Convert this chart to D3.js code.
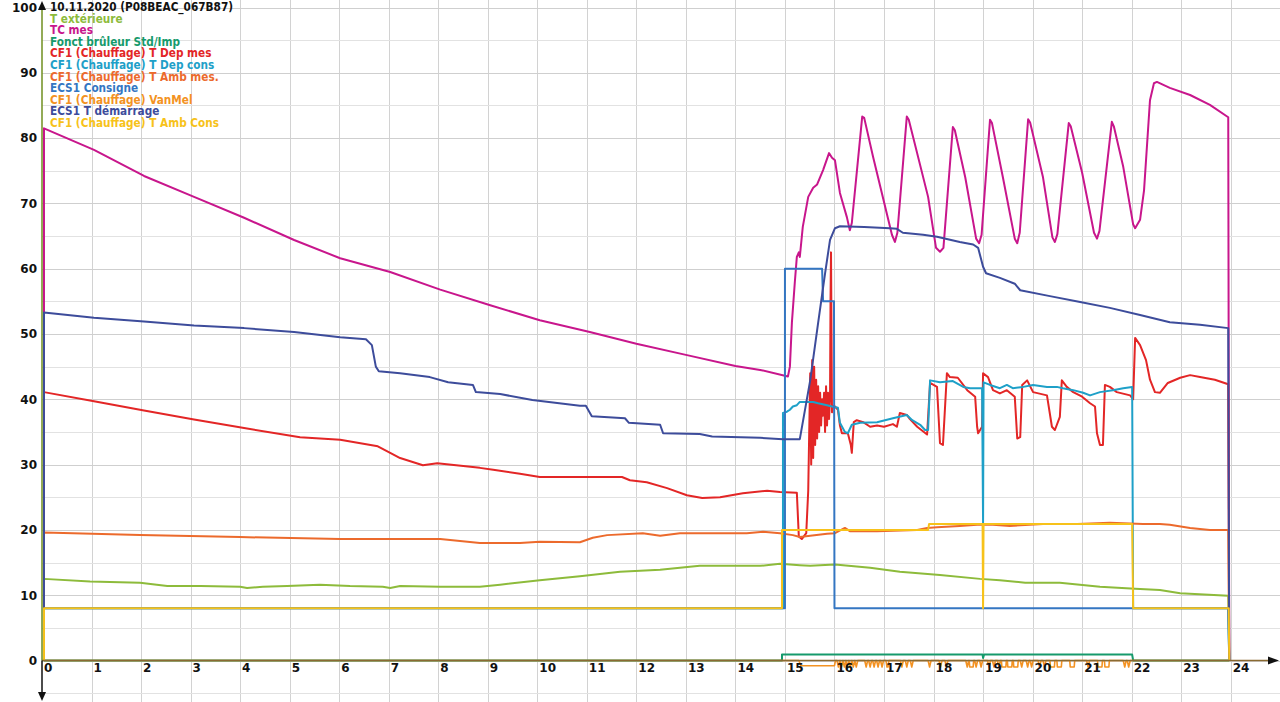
<!DOCTYPE html>
<html><head><meta charset="utf-8">
<script src="https://cdn.jsdelivr.net/npm/d3@7/dist/d3.min.js"></script>
<style>
html,body{margin:0;padding:0;background:#fff;}
svg{display:block;}
.tick{font-family:"DejaVu Sans",sans-serif;font-weight:bold;font-size:12px;fill:#111;}
.leg{font-family:"DejaVu Sans Condensed","DejaVu Sans",sans-serif;font-stretch:condensed;font-weight:bold;font-size:11.7px;}
</style></head>
<body>
<svg id="c" width="1280" height="702"></svg>
<script>
// ---------- data (hours, value) ----------
const title = "10.11.2020 (P08BEAC_067B87)";
const seriesNames = ["T extérieure","TC mes","Fonct brûleur Std/Imp","CF1 (Chauffage) T Dep mes","CF1 (Chauffage) T Dep cons","CF1 (Chauffage) T Amb mes.","ECS1 Consigne","CF1 (Chauffage) VanMel","ECS1 T démarrage","CF1 (Chauffage) T Amb Cons"];
const seriesColors = ["#8dbb3b","#c8168c","#169a6c","#e32626","#1ea0c8","#ec6a2c","#3476c2","#f39222","#3d4c9b","#f7c21a"];
const xTicks = d3.range(0,25);
const yTicks = [0,10,20,30,40,50,60,70,80,90,100];

const tExt = [[0.04,0],[0.04,12.5],[0.97,12.1],[1.98,11.9],[2.53,11.4],[3.2,11.4],[4.0,11.3],[4.14,11.1],[4.46,11.3],[4.95,11.4],[5.61,11.6],[6.22,11.4],[6.88,11.3],[7.03,11.1],[7.23,11.4],[8.04,11.3],[8.84,11.3],[9.25,11.6],[10.05,12.3],[10.86,12.9],[11.67,13.6],[12.48,13.9],[13.28,14.5],[14.09,14.5],[14.5,14.5],[14.9,14.8],[15.3,14.6],[15.51,14.5],[16.01,14.7],[16.72,14.2],[17.32,13.6],[18.13,13.1],[18.94,12.5],[19.34,12.3],[19.85,11.9],[20.55,11.9],[21.36,11.3],[22.07,11.0],[22.57,10.8],[22.98,10.3],[23.95,9.9],[23.97,0]];

const tcMes = [[0.04,0],[0.04,81.5],[1.05,78.2],[2.06,74.2],[3.07,71.0],[4.08,67.8],[5.09,64.4],[6.02,61.6],[7.03,59.5],[8.04,56.8],[9.05,54.4],[10.05,52.1],[11.06,50.3],[12.0,48.5],[13.0,46.8],[14.0,45.1],[14.5,44.5],[15.06,43.5],[15.1,45],[15.14,51.7],[15.2,58],[15.24,61.8],[15.28,62.5],[15.3,61.8],[15.36,66.4],[15.47,71.0],[15.57,72.4],[15.65,72.9],[15.77,75.1],[15.89,77.7],[15.95,77.0],[16.01,76.6],[16.11,71.6],[16.25,67.9],[16.31,65.9],[16.35,67],[16.56,83.3],[16.6,83.1],[16.78,77.1],[17.16,65.2],[17.22,64.1],[17.27,65.5],[17.46,83.3],[17.5,82.8],[17.89,71.0],[18.05,63.2],[18.13,62.6],[18.2,63.2],[18.39,81.7],[18.43,81.2],[18.64,74.0],[18.86,64.6],[18.92,63.9],[18.97,65.2],[19.14,82.8],[19.18,82.3],[19.4,74.0],[19.64,64.6],[19.69,63.9],[19.74,65.5],[19.91,82.9],[19.95,82.4],[20.21,74.0],[20.4,64.8],[20.45,64.1],[20.5,65.3],[20.73,82.3],[20.77,81.8],[21.0,74.7],[21.24,65.5],[21.3,64.6],[21.35,65.8],[21.6,82.5],[21.64,81.8],[21.83,75.6],[22.03,66.8],[22.07,66.2],[22.17,67.5],[22.25,72],[22.37,85.8],[22.45,88.4],[22.51,88.6],[22.77,87.7],[23.18,86.6],[23.58,85.1],[23.95,83.2],[23.97,0]];

const burner = [[0.04,0],[14.94,0],[14.94,0.9],[18.99,0.9],[19.0,0.4],[19.02,0.9],[22.01,0.9],[22.03,0],[23.97,0]];

const depMes = [[0.04,0],[0.04,41.1],[1.05,39.7],[2.06,38.3],[3.07,36.9],[4.08,35.6],[5.21,34.2],[6.02,33.8],[6.78,32.8],[7.03,31.8],[7.23,31.0],[7.69,29.9],[7.98,30.2],[8.84,29.5],[9.11,29.2],[9.65,28.6],[10.05,28.1],[10.86,28.1],[11.71,28.1],[11.87,27.6],[12.21,27.3],[12.62,26.4],[13.02,25.3],[13.33,24.9],[13.69,25.0],[14.15,25.6],[14.64,26.0],[14.9,25.8],[15.24,25.7],[15.28,19.0],[15.34,18.6],[15.43,19.5],[15.47,26],[15.51,44],[15.53,30],[15.55,46],[15.57,31],[15.59,45],[15.61,33],[15.63,43],[15.65,34],[15.67,42],[15.69,35],[15.71,41],[15.73,36],[15.75,40],[15.77,37.5],[15.79,41],[15.81,35],[15.83,42],[15.85,36],[15.87,41],[15.89,37],[15.91,40],[15.92,55],[15.93,62.5],[15.94,50],[15.95,38],[15.97,39],[16.01,38.9],[16.07,38.4],[16.11,36],[16.15,34.8],[16.27,34.8],[16.33,33],[16.35,31.8],[16.39,36.5],[16.45,36.8],[16.58,36.5],[16.72,35.8],[16.86,36.0],[17.0,35.8],[17.18,36.2],[17.26,35.8],[17.32,37.9],[17.46,37.6],[17.52,37.0],[17.67,35.8],[17.87,34.6],[17.93,42.5],[18.07,41.9],[18.13,33.3],[18.19,33.0],[18.27,44.0],[18.33,43.4],[18.49,43.3],[18.68,41.4],[18.84,40.4],[18.88,35.8],[18.9,34.8],[18.98,35.8],[19.0,44.0],[19.1,43.4],[19.2,41.4],[19.34,40.9],[19.48,41.4],[19.64,40.4],[19.69,34.0],[19.75,34.2],[19.79,42.2],[19.89,42.9],[20.01,41.1],[20.29,40.6],[20.39,35.8],[20.45,35.3],[20.55,37.3],[20.59,42.9],[20.69,41.9],[20.82,41.1],[21.0,40.4],[21.16,39.4],[21.26,38.9],[21.3,34.8],[21.36,33.0],[21.42,33.0],[21.46,42.2],[21.56,41.9],[21.7,41.1],[21.97,40.6],[22.03,40.0],[22.07,49.4],[22.17,48.3],[22.29,46.0],[22.37,43.0],[22.47,41.1],[22.57,41.0],[22.73,42.5],[22.98,43.3],[23.18,43.7],[23.38,43.4],[23.68,43.0],[23.95,42.3],[23.97,0]];

const depCons = [[0.04,0],[0.04,8],[14.96,8],[14.96,37.9],[15.04,38.1],[15.1,38.4],[15.16,38.9],[15.24,39.1],[15.3,39.6],[15.57,39.6],[15.67,39.4],[15.85,39.1],[15.95,38.9],[16.07,38.7],[16.11,36.4],[16.21,35.0],[16.27,34.8],[16.35,36.1],[16.52,36.4],[16.86,36.5],[17.18,37.1],[17.46,37.6],[17.57,36.8],[17.73,36.1],[17.83,35.3],[17.89,35.3],[17.93,42.9],[18.13,42.6],[18.39,42.8],[18.6,41.9],[18.74,41.7],[18.98,41.7],[19.0,21.0],[19.01,42.6],[19.14,42.2],[19.34,41.7],[19.48,42.2],[19.6,41.7],[19.81,41.9],[20.01,42.2],[20.29,41.9],[20.49,41.9],[20.61,41.7],[20.82,41.4],[21.02,41.0],[21.16,40.6],[21.36,41.1],[21.62,41.4],[21.83,41.7],[22.01,41.9],[22.03,8],[23.95,8],[23.97,0]];

const ambMes = [[0.04,0],[0.04,19.6],[1.98,19.2],[4.0,18.9],[6.02,18.6],[8.04,18.6],[8.44,18.3],[8.84,18.0],[9.65,18.0],[10.05,18.2],[10.86,18.1],[11.12,18.8],[11.41,19.2],[12.13,19.5],[12.48,19.1],[12.88,19.5],[14.23,19.5],[14.56,19.7],[14.9,19.5],[15.16,19.2],[15.3,18.9],[15.51,19.1],[15.85,19.4],[16.01,19.5],[16.21,20.3],[16.31,19.8],[16.86,19.8],[17.67,20.0],[17.87,20.3],[18.07,20.4],[18.53,20.6],[18.88,20.8],[19.2,20.8],[19.54,20.6],[20.21,20.9],[20.9,20.9],[21.56,21.1],[22.23,20.9],[22.57,20.9],[22.77,20.8],[23.18,20.3],[23.58,20.0],[23.95,20.0],[23.97,0]];

const ecsCons = [[0.04,0],[0.04,8],[15.0,8],[15.0,60],[15.75,60],[15.77,55],[15.99,55],[16.0,8],[23.95,8],[23.97,0]];

const vanMel = [[0.04,0],[15.28,0],[15.32,-0.8],[16.0,-0.8],[16.02,0],
 [16.05,0],[16.08,-1],[16.11,0],[16.14,-1],[16.17,0],[16.2,-1],[16.23,0],[16.26,-1],[16.29,0],[16.32,-1],[16.35,0],[16.38,-1],[16.41,0],[16.44,-1],[16.47,0],
 [16.61,0],[16.64,-1],[16.67,0],[16.69,0],[16.72,-1],[16.75,0],[16.77,0],[16.8,-1],[16.83,0],[16.85,0],[16.88,-1],[16.91,0],[16.93,0],[16.96,-1],[16.99,0],
 [17.04,0],[17.06,-1],[17.08,-1],[17.1,0],
 [17.33,0],[17.36,-1],[17.39,0],[17.43,0],[17.46,-1],[17.49,0],[17.53,0],[17.56,-1],[17.59,0],
 [17.89,0],[17.92,-1],[17.95,0],
 [18.11,0],[18.14,-1],[18.17,0],[18.23,0],[18.26,-1],[18.29,0],
 [18.65,0],[18.68,-1],[18.71,0],[18.72,0],[18.73,-1],[18.8,-1],[18.81,0],[18.83,0],[18.86,-1],[18.89,0],[18.93,0],[18.96,-1],[18.99,0],
 [19.09,0],[19.12,-1],[19.15,0],[19.19,0],[19.22,-1],[19.25,0],[19.29,0],[19.32,-1],[19.35,0],[19.37,0],[19.38,-1],[19.46,-1],[19.47,0],[19.49,0],[19.5,-1],[19.58,-1],[19.59,0],[19.61,0],[19.62,-1],[19.7,-1],[19.71,0],[19.75,0],[19.78,-1],[19.81,0],[19.87,0],[19.9,-1],[19.93,0],[19.95,0],[19.98,-1],[20.01,0],
 [20.11,0],[20.14,-1],[20.17,0],[20.21,0],[20.24,-1],[20.27,0],[20.35,0],[20.36,-1],[20.44,-1],[20.45,0],[20.49,0],[20.5,-1],[20.58,-1],[20.59,0],[20.75,0],[20.76,-1],[20.84,-1],[20.85,0],
 [21.09,0],[21.12,-1],[21.15,0],[21.31,0],[21.32,-1],[21.4,-1],[21.41,0],[21.45,0],[21.46,-1],[21.54,-1],[21.55,0],
 [21.83,0],[21.86,-1],[21.89,0],[21.91,0],[21.94,-1],[21.97,0],[23.97,0]];

const ecsDem = [[0.04,0],[0.04,53.3],[1.05,52.5],[2.06,51.9],[3.07,51.3],[4.08,50.9],[5.09,50.3],[6.02,49.5],[6.54,49.2],[6.66,48.3],[6.74,45.0],[6.8,44.3],[7.23,44.0],[7.83,43.4],[8.2,42.6],[8.7,42.2],[8.76,41.1],[9.25,40.8],[9.9,39.9],[10.86,39.0],[10.98,39.0],[11.1,37.4],[11.77,37.1],[11.85,36.4],[12.48,36.1],[12.54,34.8],[13.28,34.7],[13.53,34.3],[14.5,34.1],[14.96,33.9],[15.3,33.9],[15.51,42.9],[15.67,51.7],[15.81,59.3],[15.91,64.4],[16.01,66.2],[16.11,66.5],[16.6,66.4],[17.12,66.2],[17.26,66.1],[17.38,65.5],[17.79,65.2],[18.07,64.9],[18.53,64.1],[18.8,63.7],[18.9,63.2],[19.0,60.3],[19.06,59.3],[19.34,58.6],[19.64,57.7],[19.75,56.7],[20.35,55.8],[20.96,54.9],[21.56,54.0],[22.17,52.9],[22.77,51.8],[23.38,51.4],[23.95,50.9],[23.97,0]];

const ambCons = [[0.04,0],[0.04,8],[14.94,8],[14.94,20],[17.89,20],[17.91,20.9],[18.99,20.9],[19.0,8],[19.01,20.9],[22.01,20.9],[22.03,8],[23.96,8],[23.97,0]];

const seriesData = [tExt,tcMes,burner,depMes,depCons,ambMes,ecsCons,vanMel,ecsDem,ambCons];

// ---------- drawing ----------
const W = 1280, H = 702;
const x0 = 42, pxPerHour = 49.53;
const x = d3.scaleLinear().domain([0,24]).range([x0, x0+24*pxPerHour]);
const y = d3.scaleLinear().domain([0,100]).range([660.5, 7.5]);
const svg = d3.select("#c");

// grid
const g = svg.append("g");
g.selectAll("line.v").data(d3.range(1,26)).join("line")
  .attr("x1", d=>Math.round(x(d))+0.5).attr("x2", d=>Math.round(x(d))+0.5)
  .attr("y1",0).attr("y2",H).attr("stroke","#d2d2d2").attr("stroke-width",1);
g.selectAll("line.h").data(d3.range(-5,101,5)).join("line")
  .attr("x1",x0).attr("x2",W)
  .attr("y1", d=>Math.round(y(d))+0.5).attr("y2", d=>Math.round(y(d))+0.5)
  .attr("stroke", d=> d%10===0 ? "#cfcfcf" : "#e2e2e2").attr("stroke-width",1);

// series
const line = d3.line().x(d=>x(d[0])).y(d=>y(d[1]));
svg.append("g").selectAll("path").data(seriesData).join("path")
  .attr("d", line).attr("fill","none")
  .attr("stroke",(d,i)=>seriesColors[i])
  .attr("stroke-width",(d,i)=> i===7 ? 1.6 : 2)
  .attr("stroke-linejoin","round");

// axes
svg.append("line").attr("x1",x0).attr("x2",1270).attr("y1",y(0)).attr("y2",y(0))
  .attr("stroke","#8a6a32").attr("stroke-width",1.6);
svg.append("line").attr("x1",x0).attr("x2",x0).attr("y1",8).attr("y2",y(0))
  .attr("stroke","#6f8f1f").attr("stroke-width",1.5);
svg.append("line").attr("x1",x0).attr("x2",x0).attr("y1",y(0)).attr("y2",694)
  .attr("stroke","#111").attr("stroke-width",1.5);
svg.append("path").attr("d",`M${x0},1 L${x0-4},10 L${x0+4},10 Z`).attr("fill","#111");
svg.append("path").attr("d",`M${x0},701 L${x0-4},692 L${x0+4},692 Z`).attr("fill","#111");
svg.append("path").attr("d",`M1279,${y(0)} L1268,${y(0)-4} L1268,${y(0)+4} Z`).attr("fill","#111");

// tick labels
svg.append("g").selectAll("text").data(xTicks).join("text").attr("class","tick")
  .attr("x", d=>x(d)+2).attr("y", 671.5).text(d=>d);
svg.append("g").selectAll("text").data(yTicks).join("text").attr("class","tick")
  .attr("x", 37).attr("y", d=>y(d)+4.3).attr("text-anchor","end").text(d=>d);

// legend
const leg = svg.append("g");
leg.append("text").attr("class","leg").attr("x",50).attr("y",11).attr("fill","#111").text(title);
leg.selectAll("text.item").data(seriesNames).join("text").attr("class","leg item")
  .attr("x",50).attr("y",(d,i)=>11+(i+1)*11.6).attr("fill",(d,i)=>seriesColors[i]).text(d=>d);
</script>
</body></html>
